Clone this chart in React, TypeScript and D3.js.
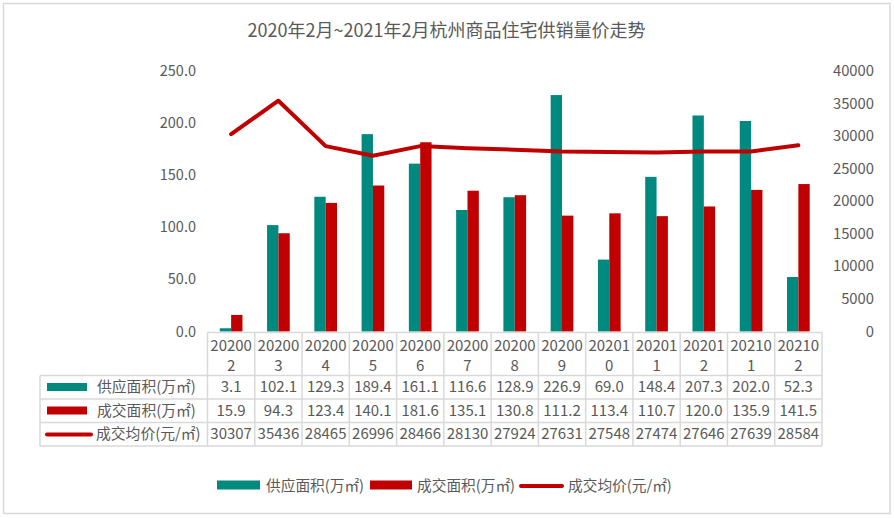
import React from 'react';
import * as d3 from 'd3';

const months = ['202002', '202003', '202004', '202005', '202006', '202007', '202008', '202009', '202010', '202011', '202012', '202101', '202102'];
const supply = [3.1, 102.1, 129.3, 189.4, 161.1, 116.6, 128.9, 226.9, 69.0, 148.4, 207.3, 202.0, 52.3];
const deal = [15.9, 94.3, 123.4, 140.1, 181.6, 135.1, 130.8, 111.2, 113.4, 110.7, 120.0, 135.9, 141.5];
const price = [30307, 35436, 28465, 26996, 28466, 28130, 27924, 27631, 27548, 27474, 27646, 27639, 28584];
const leftTicks = [0, 50, 100, 150, 200, 250];
const rightTicks = [0, 5000, 10000, 15000, 20000, 25000, 30000, 35000, 40000];
const seriesNames = ['供应面积(万㎡)', '成交面积(万㎡)', '成交均价(元/㎡)'];

const TEAL = '#00897F';
const RED = '#C00000';
const TXT = '#595959';
const GRID = '#d9d9d9';
const FONT = '"Noto Sans CJK SC", "Noto Sans", sans-serif';

export default function App() {
  const W = 894, H = 518;
  const x0 = 207.5, x1 = 822;
  const yTop = 71, yBase = 331.5;

  const x = d3.scaleBand<string>().domain(months).range([x0, x1]);
  const yL = d3.scaleLinear().domain([0, 250]).range([yBase, yTop]);
  const yR = d3.scaleLinear().domain([0, 40000]).range([yBase, yTop]);
  const bw = x.bandwidth() * 0.24;

  const line = d3.line<number>()
    .x((_, i) => (x(months[i]) as number) + x.bandwidth() / 2)
    .y(d => yR(d));

  const tableTop = 332.5;
  const rowYs = [375.5, 399, 422.5, 446];
  const tableLeft = 40;
  const rows = [supply.map(v => v.toFixed(1)), deal.map(v => v.toFixed(1)), price.map(v => String(v))];

  return (
    <svg width={W} height={H} style={{ position: 'absolute', left: 0, top: 0, background: '#fff' }} fontFamily={FONT}>
      <rect x={3.5} y={3.5} width={886.5} height={510} fill="#fff" stroke={GRID} strokeWidth={1.5} />
      <text x={446.5} y={37} textAnchor="middle" fontSize={18} fill={TXT}>
        2020年2月~2021年2月杭州商品住宅供销量价走势
      </text>

      {/* left axis */}
      {leftTicks.map(t => (
        <text key={'l' + t} x={196} y={yL(t) + 5} textAnchor="end" fontSize={14.5} fill={TXT}>{t.toFixed(1)}</text>
      ))}
      {/* right axis */}
      {rightTicks.map(t => (
        <text key={'r' + t} x={874} y={yR(t) + 5} textAnchor="end" fontSize={14.8} fill={TXT}>{t}</text>
      ))}

      {/* bars */}
      {months.map((m, i) => {
        const cx = (x(m) as number) + x.bandwidth() / 2;
        return (
          <g key={m}>
            <rect x={cx - bw} y={yL(supply[i])} width={bw} height={yBase - yL(supply[i])} fill={TEAL} />
            <rect x={cx} y={yL(deal[i])} width={bw} height={yBase - yL(deal[i])} fill={RED} />
          </g>
        );
      })}

      <path d={line(price) as string} fill="none" stroke={RED} strokeWidth={4} strokeLinejoin="round" strokeLinecap="round" />

      {/* data table */}
      <g stroke={GRID} strokeWidth={1.5} fill="none">
        <line x1={x0} x2={x1} y1={tableTop} y2={tableTop} />
        {rowYs.map(y => (
          <line key={y} x1={tableLeft} x2={x1} y1={y} y2={y} />
        ))}
        <line x1={tableLeft} x2={tableLeft} y1={rowYs[0]} y2={rowYs[3]} />
        {months.map(m => (
          <line key={m} x1={x(m) as number} x2={x(m) as number} y1={tableTop} y2={rowYs[3]} />
        ))}
        <line x1={x1} x2={x1} y1={tableTop} y2={rowYs[3]} />
      </g>
      {months.map(m => {
        const cx = (x(m) as number) + x.bandwidth() / 2;
        return (
          <text key={'h' + m} textAnchor="middle" fontSize={15} fill={TXT}>
            <tspan x={cx} y={351}>{m.slice(0, 5)}</tspan>
            <tspan x={cx} y={371}>{m.slice(5)}</tspan>
          </text>
        );
      })}
      {rows.map((r, ri) => (
        <g key={'row' + ri}>
          {r.map((v, i) => (
            <text key={i} x={(x(months[i]) as number) + x.bandwidth() / 2} y={(rowYs[ri] + rowYs[ri + 1]) / 2 + 5}
              textAnchor="middle" fontSize={15} fill={TXT}>{v}</text>
          ))}
        </g>
      ))}
      {/* table legend keys */}
      <rect x={47} y={383} width={40} height={8} fill={TEAL} />
      <rect x={47} y={406.5} width={40} height={8} fill={RED} />
      <line x1={47} x2={91} y1={434.5} y2={434.5} stroke={RED} strokeWidth={4} strokeLinecap="round" />
      {seriesNames.map((s, i) => (
        <text key={s} x={i === 2 ? 96 : 97} y={(rowYs[i] + rowYs[i + 1]) / 2 + 5} fontSize={14.8} fill={TXT}>{s}</text>
      ))}

      {/* bottom legend */}
      <rect x={217} y={480.5} width={43} height={9} fill={TEAL} />
      <text x={266} y={491} fontSize={14.7} fill={TXT}>{seriesNames[0]}</text>
      <rect x={370} y={480.5} width={42} height={9} fill={RED} />
      <text x={417} y={491} fontSize={14.7} fill={TXT}>{seriesNames[1]}</text>
      <line x1={521} x2={562} y1={486} y2={486} stroke={RED} strokeWidth={4} strokeLinecap="round" />
      <text x={568} y={491} fontSize={14.7} fill={TXT}>{seriesNames[2]}</text>
    </svg>
  );
}
